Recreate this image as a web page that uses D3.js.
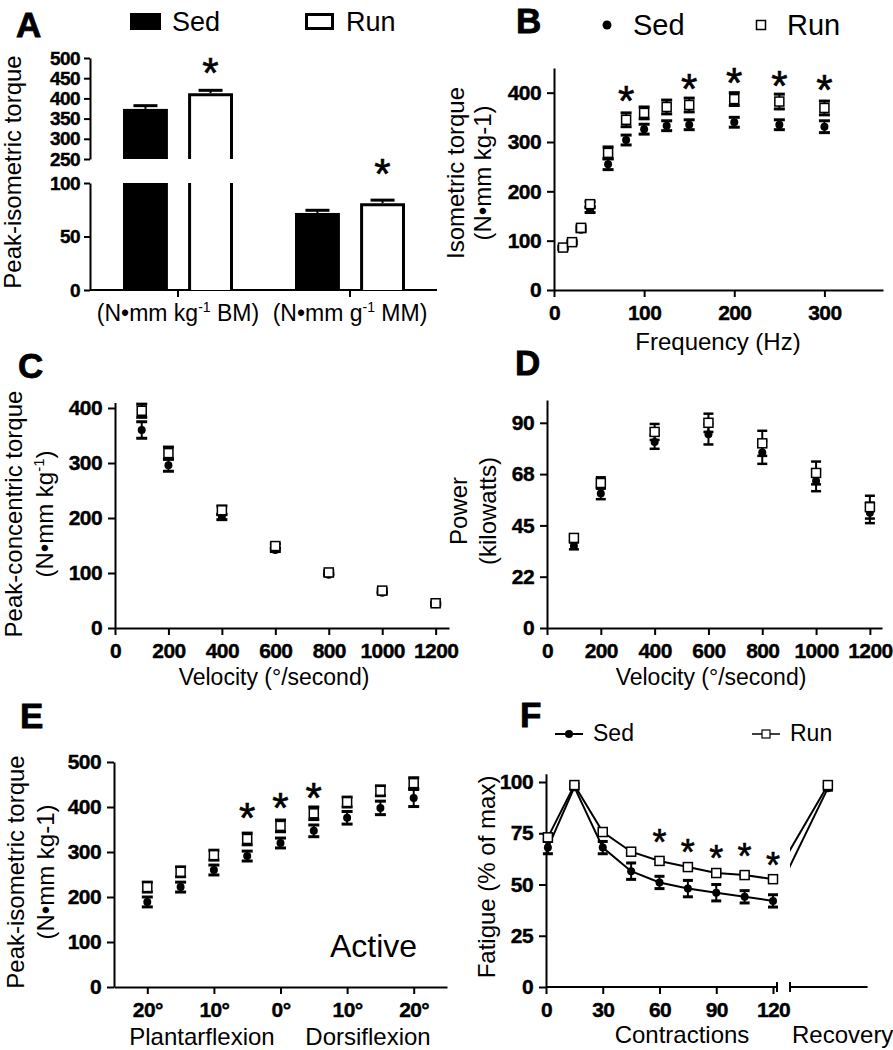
<!DOCTYPE html>
<html><head><meta charset="utf-8">
<script src="https://cdn.jsdelivr.net/npm/d3@7"></script>
<style>body{margin:0;background:#fff}svg{display:block}</style>
</head><body>
<svg id="c" width="893" height="1050"></svg>
<script>
// ---------------- DATA ----------------
// Panel A
const aCategories = ["BM", "MM"];
const aUnits = ["kg", "g"];
const aSed = [374, 72];
const aSedErr = [8, 2.5];
const aRun = [413, 81];
const aRunErr = [7, 3];
const aUpperTicks = [250, 300, 350, 400, 450, 500];
const aLowerTicks = [0, 50, 100];
const aStarY = [490, 119]; // Run bars marked significant (upper scale value, lower scale value)

// Panel B
const bFreq = [10, 20, 30, 40, 60, 80, 100, 125, 150, 200, 250, 300];
const bSed = [85, 96, 122, 162, 255, 304, 326, 333, 335, 340, 335, 331];
const bSedErr = [3, 3, 4, 5, 11, 10, 10, 10, 10, 10, 10, 12];
const bRun = [86, 97, 126, 174, 278, 345, 359, 371, 375, 387, 382, 369];
const bRunErr = [3, 3, 4, 5, 12, 14, 12, 14, 14, 13, 15, 14];
const bSigX = [80, 150, 200, 250, 300];
const bSigY = [406, 430, 442, 436, 428];
const bXTicks = [0, 100, 200, 300];
const bYTicks = [0, 100, 200, 300, 400];

// Panel C
const cVel = [100, 200, 400, 600, 800, 1000, 1200];
const cSed = [360, 296, 202, 142, 97, 64, 43];
const cSedErr = [15, 11, 5, 3, 2, 2, 2];
const cRun = [395, 318, 214, 149, 101, 68, 45];
const cRunErr = [12, 11, 8, 4, 3, 3, 2];
const cXTicks = [0, 200, 400, 600, 800, 1000, 1200];
const cYTicks = [0, 100, 200, 300, 400];

// Panel D
const dVel = [100, 200, 400, 600, 800, 1000, 1200];
const dSed = [36, 59, 81.6, 85, 77, 64.5, 50.5];
const dSedErr = [1.5, 2.5, 3, 4.5, 5, 4.5, 4.5];
const dRun = [39.5, 63.6, 86, 90, 81, 68, 53];
const dRunErr = [1, 2.5, 3.5, 4, 5.5, 5, 5];
const dXTicks = [0, 200, 400, 600, 800, 1000, 1200];
const dYTicks = [0, 22.5, 45, 67.5, 90];
const dYTickLabels = ["0", "22", "45", "68", "90"];

// Panel E
const eAngle = [-20, -15, -10, -5, 0, 5, 10, 15, 20];
const eSed = [189, 222, 260, 291, 320, 347, 376, 398, 420];
const eSedErr = [11, 11, 11, 11, 11, 13, 14, 15, 19];
const eRun = [222, 256, 293, 329, 358, 386, 411, 436, 453];
const eRunErr = [11, 11, 11, 13, 13, 14, 11, 11, 12];
const eSigX = [-5, 0, 5];
const eSigY = [400, 422, 444];
const eXTicks = [-20, -10, 0, 10, 20];
const eYTicks = [0, 100, 200, 300, 400, 500];

// Panel F
const fContr = [1, 15, 30, 45, 60, 75, 90, 105, 120];
const fSed = [68, 97.5, 68, 56.5, 51, 48, 46, 44, 42];
const fSedErr = [3, 1, 3, 4, 3, 4, 4, 3, 3];
const fRun = [73, 98.5, 75.6, 66, 61.5, 58.5, 55.6, 54.6, 52.6];
const fRunErr = [1, 1, 1, 1, 1, 1, 1, 1, 1];
const fRecSed = 97;
const fRecRun = 98.5;
const fSigX = [60, 75, 90, 105, 120];
const fSigY = [75, 70, 67, 68, 63.5];
const fXTicks = [0, 30, 60, 90, 120];
const fYTicks = [0, 25, 50, 75, 100];

// ---------------- DRAWING ----------------
const FONT = '"Liberation Sans", Arial, Helvetica, sans-serif';
const svg = d3.select("#c").attr("font-family", FONT);
const fmt = d => String(d);

function styleAxis(g, fs) {
  fs = fs || 21;
  g.select(".domain").attr("stroke", "#000").attr("stroke-width", 2);
  g.selectAll(".tick line").attr("stroke", "#000").attr("stroke-width", 2);
  g.selectAll(".tick text").attr("font-size", fs).attr("font-weight", "bold")
    .attr("font-family", FONT).attr("fill", "#000").attr("letter-spacing", -0.6)
    .attr("stroke", "#000").attr("stroke-width", 0.4);
}
function letter(t, x, y) {
  svg.append("text").attr("x", x).attr("y", y).attr("font-size", 35)
    .attr("font-weight", "bold").attr("stroke", "#000").attr("stroke-width", 0.8).text(t);
}
function yTitle(lines, xs, cy, fs) {
  lines.forEach((l, i) => {
    const t = svg.append("text").attr("transform", `translate(${xs[i]},${cy}) rotate(-90)`)
      .attr("text-anchor", "middle").attr("font-size", fs);
    if (typeof l === "string") t.text(l);
    else l(t);
  });
}
function star(x, cy, fs) {
  svg.append("text").attr("x", x).attr("y", cy + 0.6 * fs).attr("text-anchor", "middle")
    .attr("font-size", fs).attr("stroke", "#000").attr("stroke-width", 0.6).text("*");
}
function errBar(g, x, y0, y1, cw, cs) {
  g.append("line").attr("x1", x).attr("x2", x).attr("y1", y0).attr("y2", y1)
    .attr("stroke", "#000").attr("stroke-width", 2);
  [y0, y1].forEach(yy => g.append("line").attr("x1", x - cw / 2).attr("x2", x + cw / 2)
    .attr("y1", yy).attr("y2", yy).attr("stroke", "#000").attr("stroke-width", cs));
}
function drawSeries(x, y, xs, vals, errs, kind, cw, cs, sz) {
  const g = svg.append("g");
  xs.forEach((xv, i) => errBar(g, x(xv), y(vals[i] - errs[i]), y(vals[i] + errs[i]), cw, cs));
  xs.forEach((xv, i) => {
    if (kind === "sed") g.append("circle").attr("cx", x(xv)).attr("cy", y(vals[i])).attr("r", sz / 2).attr("fill", "#000");
    else g.append("rect").attr("x", x(xv) - sz / 2).attr("y", y(vals[i]) - sz / 2).attr("width", sz).attr("height", sz)
      .attr("fill", "#fff").attr("stroke", "#000").attr("stroke-width", 1.5);
  });
}

// ===== Panel A =====
(function () {
  const yUp = d3.scaleLinear().domain([250, 500]).range([159, 58]);
  const yLo = d3.scaleLinear().domain([0, 100]).range([290, 183]);
  const xG = d3.scaleBand().domain(aCategories).range([92, 436]);
  const xS = d3.scaleBand().domain(["Sed", "Run"]).range([-55, 55]).paddingInner(0.31);
  svg.append("g").attr("transform", "translate(90,0)")
    .call(d3.axisLeft(yUp).tickValues(aUpperTicks).tickFormat(fmt).tickSize(6).tickPadding(4).tickSizeOuter(0)).call(styleAxis, 19);
  svg.append("g").attr("transform", "translate(90,0)")
    .call(d3.axisLeft(yLo).tickValues(aLowerTicks).tickFormat(fmt).tickSize(6).tickPadding(4).tickSizeOuter(0)).call(styleAxis, 19);
  const xa = svg.append("g").attr("transform", "translate(0,290)");
  xa.append("line").attr("x1", 90).attr("x2", 437).attr("stroke", "#000").attr("stroke-width", 2);
  aCategories.forEach((c, i) => {
    const cx = xG(c) + xG.bandwidth() / 2;
    xa.append("line").attr("x1", cx).attr("x2", cx).attr("y1", 0).attr("y2", 7).attr("stroke", "#000").attr("stroke-width", 2);
    const t = svg.append("text").attr("x", cx).attr("y", 321).attr("text-anchor", "middle").attr("font-size", 23);
    t.append("tspan").text("(N•mm " + aUnits[i]);
    t.append("tspan").attr("dy", -9).attr("font-size", 14).text("-1");
    t.append("tspan").attr("dy", 9).text(" " + c + ")");
  });
  const series = [["Sed", aSed, aSedErr], ["Run", aRun, aRunErr]];
  series.forEach(([s, vals, errs]) => {
    aCategories.forEach((c, i) => {
      const cx = xG(c) + xG.bandwidth() / 2;
      const x0 = cx + xS(s), x1 = x0 + xS.bandwidth();
      const v = vals[i];
      const sed = s === "Sed";
      const yTop = v > 100 ? yUp(v) : yLo(v);
      const yErr = v > 100 ? yUp(v + errs[i]) : yLo(v + errs[i]);
      const mid = (x0 + x1) / 2;
      svg.append("line").attr("x1", mid).attr("x2", mid).attr("y1", yTop).attr("y2", yErr).attr("stroke", "#000").attr("stroke-width", 2);
      svg.append("line").attr("x1", mid - 12).attr("x2", mid + 12).attr("y1", yErr).attr("y2", yErr).attr("stroke", "#000").attr("stroke-width", 3);
      const segs = [];
      if (v > 100) {
        segs.push({ yb: yLo(0), yt: yLo(100), top: false });
        segs.push({ yb: yUp(250), yt: yUp(v), top: true });
      } else segs.push({ yb: yLo(0), yt: yLo(v), top: true });
      segs.forEach(sg => {
        const inset = sed ? 0 : 1.5;
        if (sed) {
          svg.append("rect").attr("x", x0).attr("y", sg.yt).attr("width", x1 - x0).attr("height", sg.yb - sg.yt).attr("fill", "#000");
        } else {
          const a = x0 + inset, b = x1 - inset, tt = sg.top ? sg.yt + inset : sg.yt;
          svg.append("rect").attr("x", a).attr("y", tt).attr("width", b - a).attr("height", sg.yb - tt).attr("fill", "#fff");
          let d = sg.top ? `M${a},${sg.yb}V${tt}H${b}V${sg.yb}` : `M${a},${sg.yb}V${sg.yt}M${b},${sg.yb}V${sg.yt}`;
          svg.append("path").attr("d", d).attr("fill", "none").attr("stroke", "#000").attr("stroke-width", 3);
        }
      });
    });
  });
  star(xG(aCategories[0]) + xG.bandwidth() / 2 + xS("Run") + xS.bandwidth() / 2, yUp(aStarY[0]), 42);
  star(xG(aCategories[1]) + xG.bandwidth() / 2 + xS("Run") + xS.bandwidth() / 2, yLo(aStarY[1]), 42);
  svg.append("rect").attr("x", 130).attr("y", 13).attr("width", 31).attr("height", 17).attr("fill", "#000");
  svg.append("text").attr("x", 172).attr("y", 31).attr("font-size", 27).text("Sed");
  svg.append("rect").attr("x", 306.5).attr("y", 14.5).attr("width", 26).attr("height", 14).attr("fill", "#fff").attr("stroke", "#000").attr("stroke-width", 3);
  svg.append("text").attr("x", 346).attr("y", 31).attr("font-size", 27).text("Run");
  letter("A", 16, 37);
  yTitle(["Peak-isometric torque"], [21], 172, 24);
})();

// ===== Panel B =====
(function () {
  const x = d3.scaleLinear().domain([0, 365]).range([554, 883]);
  const y = d3.scaleLinear().domain([0, 450]).range([290, 68]);
  svg.append("g").attr("transform", "translate(0,290)")
    .call(d3.axisBottom(x).tickValues(bXTicks).tickFormat(fmt).tickSize(7).tickPadding(8).tickSizeOuter(0)).call(styleAxis);
  svg.append("g").attr("transform", "translate(554,0)")
    .call(d3.axisLeft(y).tickValues(bYTicks).tickFormat(fmt).tickSize(7).tickPadding(6).tickSizeOuter(0)).call(styleAxis);
  drawSeries(x, y, bFreq, bSed, bSedErr, "sed", 11, 3, 8);
  drawSeries(x, y, bFreq, bRun, bRunErr, "run", 11, 3, 9);
  bSigX.forEach((f, i) => star(x(f), y(bSigY[i]), 42));
  svg.append("circle").attr("cx", 607).attr("cy", 25).attr("r", 4.5).attr("fill", "#000");
  svg.append("text").attr("x", 633).attr("y", 35).attr("font-size", 29).text("Sed");
  svg.append("rect").attr("x", 756.5).attr("y", 20.5).attr("width", 9).attr("height", 9).attr("fill", "#fff").attr("stroke", "#000").attr("stroke-width", 1.5);
  svg.append("text").attr("x", 787).attr("y", 35).attr("font-size", 29).text("Run");
  svg.append("text").attr("x", 718).attr("y", 350).attr("text-anchor", "middle").attr("font-size", 24).text("Frequency (Hz)");
  letter("B", 516, 33);
  yTitle(["Isometric torque", "(N•mm kg-1)"], [464, 491], 173, 24);
})();

// ===== Panel C =====
(function () {
  const x = d3.scaleLinear().domain([0, 1250]).range([115, 449]);
  const y = d3.scaleLinear().domain([0, 410]).range([628, 402.5]);
  svg.append("g").attr("transform", "translate(0,628)")
    .call(d3.axisBottom(x).tickValues(cXTicks).tickFormat(fmt).tickSize(7).tickPadding(8).tickSizeOuter(0)).call(styleAxis);
  svg.append("g").attr("transform", "translate(115,0)")
    .call(d3.axisLeft(y).tickValues(cYTicks).tickFormat(fmt).tickSize(7).tickPadding(6).tickSizeOuter(0)).call(styleAxis);
  drawSeries(x, y, cVel, cSed, cSedErr, "sed", 11, 3, 8);
  drawSeries(x, y, cVel, cRun, cRunErr, "run", 11, 3, 9);
  svg.append("text").attr("x", 274).attr("y", 685).attr("text-anchor", "middle").attr("font-size", 23).text("Velocity (°/second)");
  letter("C", 18, 378);
  yTitle(["Peak-concentric torque", t => {
    t.append("tspan").text("(N•mm kg");
    t.append("tspan").attr("dy", -9).attr("font-size", 15).text("-1");
    t.append("tspan").attr("dy", 9).text(")");
  }], [22, 53], 514, 24);
})();

// ===== Panel D =====
(function () {
  const x = d3.scaleLinear().domain([0, 1245]).range([547, 882]);
  const y = d3.scaleLinear().domain([0, 100]).range([628, 400]);
  svg.append("g").attr("transform", "translate(0,628)")
    .call(d3.axisBottom(x).tickValues(dXTicks).tickFormat(fmt).tickSize(7).tickPadding(8).tickSizeOuter(0)).call(styleAxis);
  svg.append("g").attr("transform", "translate(547,0)")
    .call(d3.axisLeft(y).tickValues(dYTicks).tickFormat((d, i) => dYTickLabels[i]).tickSize(7).tickPadding(6).tickSizeOuter(0)).call(styleAxis);
  drawSeries(x, y, dVel, dSed, dSedErr, "sed", 10, 2.5, 8);
  drawSeries(x, y, dVel, dRun, dRunErr, "run", 10, 2.5, 9);
  svg.append("text").attr("x", 711).attr("y", 685).attr("text-anchor", "middle").attr("font-size", 23).text("Velocity (°/second)");
  letter("D", 515, 375);
  yTitle(["Power", "(kilowatts)"], [467, 496], 511, 24);
})();

// ===== Panel E =====
(function () {
  const x = d3.scaleLinear().domain([-25, 25]).range([114, 447]);
  const y = d3.scaleLinear().domain([0, 500]).range([987, 762]);
  svg.append("g").attr("transform", "translate(0,987)")
    .call(d3.axisBottom(x).tickValues(eXTicks).tickFormat(d => Math.abs(d) + "°").tickSize(7).tickPadding(8).tickSizeOuter(0)).call(styleAxis);
  svg.append("g").attr("transform", "translate(114,0)")
    .call(d3.axisLeft(y).tickValues(eYTicks).tickFormat(fmt).tickSize(7).tickPadding(6).tickSizeOuter(0)).call(styleAxis);
  drawSeries(x, y, eAngle, eSed, eSedErr, "sed", 11, 3, 8);
  drawSeries(x, y, eAngle, eRun, eRunErr, "run", 11, 3, 9);
  eSigX.forEach((a, i) => star(x(a), y(eSigY[i]), 42));
  svg.append("text").attr("x", 330).attr("y", 957).attr("font-size", 32).text("Active");
  svg.append("text").attr("x", 202).attr("y", 1045).attr("text-anchor", "middle").attr("font-size", 24).text("Plantarflexion");
  svg.append("text").attr("x", 368).attr("y", 1045).attr("text-anchor", "middle").attr("font-size", 24).text("Dorsiflexion");
  letter("E", 20, 728);
  yTitle(["Peak-isometric torque", "(N•mm kg-1)"], [24, 54], 872, 24);
})();

// ===== Panel F =====
(function () {
  const x = d3.scaleLinear().domain([0, 170]).range([546, 546 + 170 * 1.8917]);
  const y = d3.scaleLinear().domain([0, 104]).range([987, 773.8]);
  const recX = 149;
  const gx = svg.append("g").attr("transform", "translate(0,987)")
    .call(d3.axisBottom(x).tickValues(fXTicks).tickFormat(fmt).tickSize(7).tickPadding(8)).call(styleAxis);
  gx.select(".domain").remove();
  const ax = svg.append("g").attr("transform", "translate(0,987)").attr("stroke", "#000").attr("stroke-width", 2);
  ax.append("line").attr("x1", x(0)).attr("x2", x(122.1));
  ax.append("line").attr("x1", x(122.1)).attr("x2", x(122.1)).attr("y1", -5).attr("y2", 5);
  ax.append("line").attr("x1", x(129)).attr("x2", x(170));
  ax.append("line").attr("x1", x(129)).attr("x2", x(129)).attr("y1", -5).attr("y2", 5);
  svg.append("g").attr("transform", "translate(546,0)")
    .call(d3.axisLeft(y).tickValues(fYTicks).tickFormat(fmt).tickSize(7).tickPadding(6).tickSizeOuter(0)).call(styleAxis);
  const line = d3.line().x(d => x(d[0])).y(d => y(d[1]));
  const sedPts = fContr.map((c, i) => [c, fSed[i]]);
  const runPts = fContr.map((c, i) => [c, fRun[i]]);
  svg.append("path").attr("d", line(sedPts)).attr("fill", "none").attr("stroke", "#000").attr("stroke-width", 2);
  svg.append("path").attr("d", line(runPts)).attr("fill", "none").attr("stroke", "#000").attr("stroke-width", 2);
  svg.append("clipPath").attr("id", "recClip").append("rect").attr("x", x(129)).attr("y", 700).attr("width", 200).attr("height", 300);
  const rg = svg.append("g").attr("clip-path", "url(#recClip)");
  rg.append("path").attr("d", line([[120, fSed[8]], [recX, fRecSed]])).attr("fill", "none").attr("stroke", "#000").attr("stroke-width", 2);
  rg.append("path").attr("d", line([[120, fRun[8]], [recX, fRecRun]])).attr("fill", "none").attr("stroke", "#000").attr("stroke-width", 2);
  drawSeries(x, y, fContr.concat([recX]), fSed.concat([fRecSed]), fSedErr.concat([1]), "sed", 10, 3, 8);
  drawSeries(x, y, fContr.concat([recX]), fRun.concat([fRecRun]), fRunErr.concat([1]), "run", 10, 2, 9);
  fSigX.forEach((c, i) => star(x(c), y(fSigY[i]), 36));
  svg.append("line").attr("x1", 555).attr("x2", 583).attr("y1", 734).attr("y2", 734).attr("stroke", "#000").attr("stroke-width", 2);
  svg.append("circle").attr("cx", 569).attr("cy", 734).attr("r", 4).attr("fill", "#000");
  svg.append("text").attr("x", 593).attr("y", 741).attr("font-size", 23).text("Sed");
  svg.append("line").attr("x1", 752).attr("x2", 780).attr("y1", 734).attr("y2", 734).attr("stroke", "#000").attr("stroke-width", 1.5);
  svg.append("rect").attr("x", 762).attr("y", 730).attr("width", 8).attr("height", 8).attr("fill", "#fff").attr("stroke", "#000").attr("stroke-width", 1.2);
  svg.append("text").attr("x", 790).attr("y", 741).attr("font-size", 23).text("Run");
  svg.append("text").attr("x", 682).attr("y", 1043).attr("text-anchor", "middle").attr("font-size", 24).text("Contractions");
  svg.append("text").attr("x", 792).attr("y", 1043).attr("font-size", 24).text("Recovery");
  letter("F", 520, 727);
  yTitle(["Fatigue (% of max)"], [495], 877, 24);
})();
</script>
</body></html>
